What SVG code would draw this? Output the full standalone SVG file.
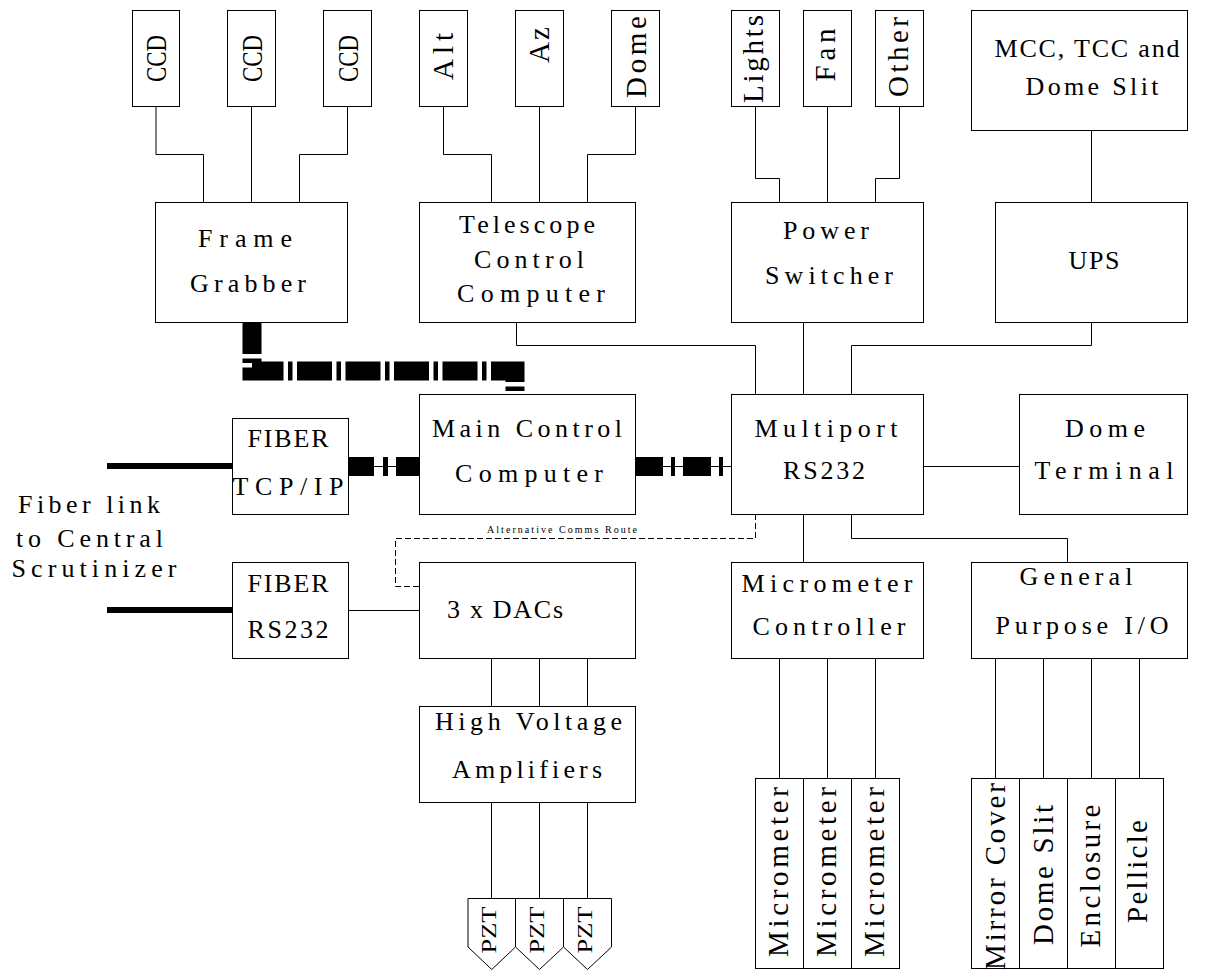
<svg xmlns="http://www.w3.org/2000/svg" width="1212" height="970" viewBox="0 0 1212 970" font-family="Liberation Serif, Times New Roman, serif">
<style>
rect.b, polygon.b { fill: #fff; stroke: #000; stroke-width: 1; }
text { font-family: "Liberation Serif", "Times New Roman", serif; fill: #000; text-anchor: middle; }
text.h { font-size: 26px; }
text.v { font-size: 29px; }
text.p { font-size: 21px; }
text.s { font-size: 10px; }
.ln { fill: none; stroke: #000; stroke-width: 1; }
.dash { fill: none; stroke: #000; stroke-width: 1; stroke-dasharray: 6 3; }
.thick { fill: none; stroke: #000; stroke-width: 19; stroke-linejoin: miter; }
.fiber { fill: none; stroke: #000; stroke-width: 6; }
</style>
<rect width="1212" height="970" fill="#fff"/>
<g id="connectors">
  <path class="ln" d="M156,106 V154.5 H203.5 V202"/>
  <path class="ln" d="M251.5,106 V202"/>
  <path class="ln" d="M347.5,106 V154.5 H299.5 V202"/>
  <path class="ln" d="M443.5,106 V154.5 H491.5 V202"/>
  <path class="ln" d="M539.5,106 V202"/>
  <path class="ln" d="M635.5,106 V154.5 H587.5 V202"/>
  <path class="ln" d="M755.5,106 V178.5 H779.5 V202"/>
  <path class="ln" d="M827.5,106 V202"/>
  <path class="ln" d="M899.5,106 V178.5 H875.5 V202"/>
  <path class="ln" d="M1091.5,130 V202"/>
  <path class="ln" d="M516.5,322 V345.5 H755.5 V394"/>
  <path class="ln" d="M803.5,322 V394"/>
  <path class="ln" d="M1091.5,322 V345.5 H851.5 V394"/>
  <path class="thick" d="M252,322 V371 H515 V394" stroke-dasharray="35 4.5 4.5 4.5" stroke-dashoffset="3"/>
  <path class="ln" d="M348,466.5 H419"/>
  <path class="thick" d="M348,466.5 H419" stroke-dasharray="26 9 5 8"/>
  <path class="ln" d="M635,466.5 H731"/>
  <path class="thick" d="M635,466.5 H731" stroke-dasharray="28 8 4 8"/>
  <path class="fiber" d="M107,466 H232"/>
  <path class="fiber" d="M107,610 H232" stroke-width="5"/>
  <path class="ln" d="M923,466.5 H1019"/>
  <path class="ln" d="M348,610.5 H419"/>
  <path class="dash" d="M755.5,514 V538.5 H395.5 V586.5 H419"/>
  <path class="ln" d="M803.5,514 V562"/>
  <path class="ln" d="M851.5,514 V538.5 H1067.5 V562"/>
  <path class="ln" d="M491.5,658 V706"/>
  <path class="ln" d="M539.5,658 V706"/>
  <path class="ln" d="M587.5,658 V706"/>
  <path class="ln" d="M491.5,802 V898"/>
  <path class="ln" d="M539.5,802 V898"/>
  <path class="ln" d="M587.5,802 V898"/>
  <path class="ln" d="M779.5,658 V778"/>
  <path class="ln" d="M827.5,658 V778"/>
  <path class="ln" d="M875.5,658 V778"/>
  <path class="ln" d="M995.5,658 V778"/>
  <path class="ln" d="M1043.5,658 V778"/>
  <path class="ln" d="M1091.5,658 V778"/>
  <path class="ln" d="M1139.5,658 V778"/>
  <text class="s" x="562" y="533" textLength="150" lengthAdjust="spacing">Alternative Comms Route</text>
</g>
<g id="ccd1"><rect class="b" x="132.5" y="10.5" width="47" height="96"/><text class="v" transform="translate(166,58.5) rotate(-90)" textLength="47" lengthAdjust="spacingAndGlyphs">CCD</text></g>
<g id="ccd2"><rect class="b" x="227.5" y="10.5" width="48" height="96"/><text class="v" transform="translate(261.5,58.5) rotate(-90)" textLength="47" lengthAdjust="spacingAndGlyphs">CCD</text></g>
<g id="ccd3"><rect class="b" x="323.5" y="10.5" width="48" height="96"/><text class="v" transform="translate(357.5,58.5) rotate(-90)" textLength="47" lengthAdjust="spacingAndGlyphs">CCD</text></g>
<g id="alt"><rect class="b" x="419.5" y="10.5" width="48" height="96"/><text class="v" transform="translate(453,56.5) rotate(-90)" textLength="47" lengthAdjust="spacing">Alt</text></g>
<g id="az"><rect class="b" x="515.5" y="10.5" width="48" height="96"/><text class="v" transform="translate(549,45) rotate(-90)" textLength="36" lengthAdjust="spacing">Az</text></g>
<g id="dome-motor"><rect class="b" x="611.5" y="10.5" width="48" height="96"/><text class="v" transform="translate(646,57) rotate(-90)" textLength="82" lengthAdjust="spacing">Dome</text></g>
<g id="lights"><rect class="b" x="731.5" y="10.5" width="48" height="96"/><text class="v" transform="translate(763,59) rotate(-90)" textLength="88" lengthAdjust="spacing">Lights</text></g>
<g id="fan"><rect class="b" x="803.5" y="10.5" width="48" height="96"/><text class="v" transform="translate(835,55) rotate(-90)" textLength="53" lengthAdjust="spacing">Fan</text></g>
<g id="other"><rect class="b" x="875.5" y="10.5" width="48" height="96"/><text class="v" transform="translate(908,57) rotate(-90)" textLength="80" lengthAdjust="spacing">Other</text></g>
<g id="mcc-tcc"><rect class="b" x="971.5" y="10.5" width="216" height="120"/><text class="h" x="1087" y="57" textLength="185" lengthAdjust="spacing">MCC, TCC and</text><text class="h" x="1092" y="95" textLength="133" lengthAdjust="spacing">Dome Slit</text></g>
<g id="frame-grabber"><rect class="b" x="155.5" y="202.5" width="192" height="120"/><text class="h" x="245" y="247" textLength="94" lengthAdjust="spacing">Frame</text><text class="h" x="248" y="292" textLength="116" lengthAdjust="spacing">Grabber</text></g>
<g id="tcc"><rect class="b" x="419.5" y="202.5" width="216" height="120"/><text class="h" x="527" y="233" textLength="136" lengthAdjust="spacing">Telescope</text><text class="h" x="529" y="268" textLength="110" lengthAdjust="spacing">Control</text><text class="h" x="531" y="302" textLength="148" lengthAdjust="spacing">Computer</text></g>
<g id="power"><rect class="b" x="731.5" y="202.5" width="192" height="120"/><text class="h" x="826" y="239" textLength="86" lengthAdjust="spacing">Power</text><text class="h" x="829" y="284" textLength="128" lengthAdjust="spacing">Switcher</text></g>
<g id="ups"><rect class="b" x="995.5" y="202.5" width="192" height="120"/><text class="h" x="1094" y="269" textLength="51" lengthAdjust="spacing">UPS</text></g>
<g id="fiber-tcp"><rect class="b" x="232.5" y="418.5" width="116" height="96"/><text class="h" x="288" y="447" textLength="81" lengthAdjust="spacing">FIBER</text><text class="h" x="288" y="495" textLength="111" lengthAdjust="spacing">TCP/IP</text></g>
<g id="main-control"><rect class="b" x="419.5" y="394.5" width="216" height="120"/><text class="h" x="527" y="437" textLength="190" lengthAdjust="spacing">Main Control</text><text class="h" x="529" y="482" textLength="148" lengthAdjust="spacing">Computer</text></g>
<g id="multiport"><rect class="b" x="731.5" y="394.5" width="192" height="120"/><text class="h" x="826" y="437" textLength="143" lengthAdjust="spacing">Multiport</text><text class="h" x="824" y="479" textLength="82" lengthAdjust="spacing">RS232</text></g>
<g id="dome-terminal"><rect class="b" x="1019.5" y="394.5" width="168" height="120"/><text class="h" x="1105" y="437" textLength="80" lengthAdjust="spacing">Dome</text><text class="h" x="1104" y="479" textLength="139" lengthAdjust="spacing">Terminal</text></g>
<g id="fiber-label"><text class="h" x="89" y="513" textLength="142" lengthAdjust="spacing">Fiber link</text><text class="h" x="89.5" y="547" textLength="147" lengthAdjust="spacing">to Central</text><text class="h" x="94" y="577" textLength="165" lengthAdjust="spacing">Scrutinizer</text></g>
<g id="fiber-rs232"><rect class="b" x="232.5" y="562.5" width="116" height="96"/><text class="h" x="288" y="592" textLength="81" lengthAdjust="spacing">FIBER</text><text class="h" x="288" y="638" textLength="81" lengthAdjust="spacing">RS232</text></g>
<g id="dacs"><rect class="b" x="419.5" y="562.5" width="216" height="96"/><text class="h" x="505" y="618" textLength="116" lengthAdjust="spacing">3 x DACs</text></g>
<g id="micrometer-controller"><rect class="b" x="731.5" y="562.5" width="192" height="96"/><text class="h" x="827" y="592" textLength="171" lengthAdjust="spacing">Micrometer</text><text class="h" x="829" y="635" textLength="153" lengthAdjust="spacing">Controller</text></g>
<g id="gpio"><rect class="b" x="971.5" y="562.5" width="216" height="96"/><text class="h" x="1076" y="585" textLength="113" lengthAdjust="spacing">General</text><text class="h" x="1082" y="634" textLength="173" lengthAdjust="spacing">Purpose I/O</text></g>
<g id="hv-amps"><rect class="b" x="419.5" y="706.5" width="216" height="96"/><text class="h" x="528.5" y="730" textLength="187" lengthAdjust="spacing">High Voltage</text><text class="h" x="527" y="778" textLength="150" lengthAdjust="spacing">Amplifiers</text></g>
<g id="pzt1"><polygon class="b" points="468,898.5 515.5,898.5 515.5,947 491.75,969.5 468,947"/><text class="p" transform="translate(496,930) rotate(-90)" textLength="47" lengthAdjust="spacingAndGlyphs">PZT</text></g>
<g id="pzt2"><polygon class="b" points="515.5,898.5 563.5,898.5 563.5,947 539.5,969.5 515.5,947"/><text class="p" transform="translate(544,930) rotate(-90)" textLength="47" lengthAdjust="spacingAndGlyphs">PZT</text></g>
<g id="pzt3"><polygon class="b" points="563.5,898.5 611.5,898.5 611.5,947 587.5,969.5 563.5,947"/><text class="p" transform="translate(592,930) rotate(-90)" textLength="47" lengthAdjust="spacingAndGlyphs">PZT</text></g>
<g id="micrometer1"><rect class="b" x="755.5" y="778.5" width="48" height="190"/><text class="v" transform="translate(788,872) rotate(-90)" textLength="170" lengthAdjust="spacing">Micrometer</text></g>
<g id="micrometer2"><rect class="b" x="803.5" y="778.5" width="48" height="190"/><text class="v" transform="translate(836,872) rotate(-90)" textLength="170" lengthAdjust="spacing">Micrometer</text></g>
<g id="micrometer3"><rect class="b" x="851.5" y="778.5" width="48" height="190"/><text class="v" transform="translate(884,872) rotate(-90)" textLength="170" lengthAdjust="spacing">Micrometer</text></g>
<g id="mirror-cover"><rect class="b" x="971.5" y="778.5" width="48" height="190"/><text class="v" transform="translate(1005,876.5) rotate(-90)" textLength="187" lengthAdjust="spacing">Mirror Cover</text></g>
<g id="dome-slit"><rect class="b" x="1019.5" y="778.5" width="48" height="190"/><text class="v" transform="translate(1053,875) rotate(-90)" textLength="140" lengthAdjust="spacing">Dome Slit</text></g>
<g id="enclosure"><rect class="b" x="1067.5" y="778.5" width="48" height="190"/><text class="v" transform="translate(1100,876) rotate(-90)" textLength="143" lengthAdjust="spacing">Enclosure</text></g>
<g id="pellicle"><rect class="b" x="1115.5" y="778.5" width="48" height="190"/><text class="v" transform="translate(1147,871.5) rotate(-90)" textLength="103" lengthAdjust="spacing">Pellicle</text></g>
</svg>
